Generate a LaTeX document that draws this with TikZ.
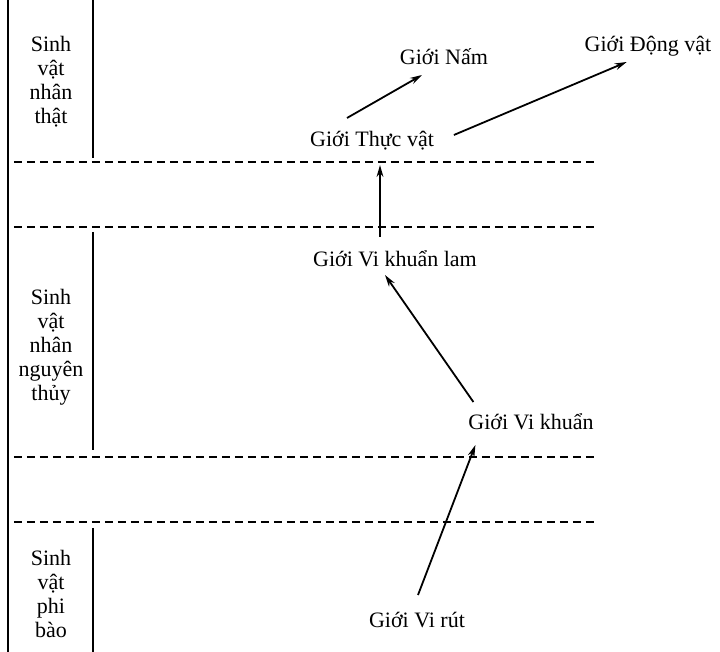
\documentclass[tikz,border=0pt]{standalone}
\usepackage{fontspec}
\setmainfont{Liberation Serif}
\usetikzlibrary{arrows.meta,calc}

\begin{document}
\begin{tikzpicture}[
    % Environment Config
    x=0.5pt, y=-0.5pt,
    font=\fontsize{11}{12}\selectfont,
    Kingdom/.style={% Style for the kingdom names
      anchor=base,
      inner sep=0pt,
      outer sep=0pt,
      text height=8pt,
      text depth=3pt
    },
    Domain/.style={% Style for the group names on the left
      align=center,
      inner sep=0pt
    },
    Border/.style={% Style for the solid rules
      line width=1.1pt
    },
    Divider/.style={% Style for the dashed rules
      line width=1pt,
      dash pattern=on 4pt off 2.5pt
    },
    Evolve/.style={% Style for the arrows
      -{Stealth[length=6pt,width=3.4pt]},
      line width=0.9pt
    }
  ]

  \useasboundingbox (0,0) rectangle (720,652);

  %===Solid rules===
  \draw[Border] (8,0) -- (8,652);
  \draw[Border] (93,0) -- (93,158)
                (93,232) -- (93,450)
                (93,528) -- (93,652);

  %===Dashed rules===
  \foreach \y in {162,227,457,522}
    \draw[Divider] (14,\y) -- (598,\y);

  % Put the group names
  \node[Domain] (D1) at (51,82) {Sinh\\vật\\nhân\\thật};
  \node[Domain] (D2) at (51,347) {Sinh\\vật\\nhân\\nguyên\\thủy};
  \node[Domain] (D3) at (51,594) {Sinh\\vật\\phi\\bào};

  % Put the kingdoms
  \node[Kingdom] (Nam) at (444,65) {Giới Nấm};
  \node[Kingdom] (DongVat) at (648,52) {Giới Động vật};
  \node[Kingdom] (ThucVat) at (372,147) {Giới Thực vật};
  \node[Kingdom] (ViKhuanLam) at (395,267) {Giới Vi khuẩn lam};
  \node[Kingdom] (ViKhuan) at (531,430) {Giới Vi khuẩn};
  \node[Kingdom] (ViRut) at (417,628) {Giới Vi rút};

  % Draw the arrows
  \draw[Evolve] ($(ThucVat.north)+(-25,-13)$) -- ($(Nam.south west)+(22,4)$);
  \draw[Evolve] ($(ThucVat.east)+(20,-7)$) -- ($(DongVat.south west)+(42,4)$);
  \draw[Evolve] ($(ViKhuanLam.north)+(-15,-14)$) -- ($(ThucVat.south)+(8,12)$);
  \draw[Evolve] ($(ViKhuan.north west)+(5,-12)$) -- ($(ViKhuanLam.south)+(-10,2)$);
  \draw[Evolve] ($(ViRut.north)+(1,-17)$) -- ($(ViKhuan.south west)+(7,9)$);

\end{tikzpicture}
\end{document}
